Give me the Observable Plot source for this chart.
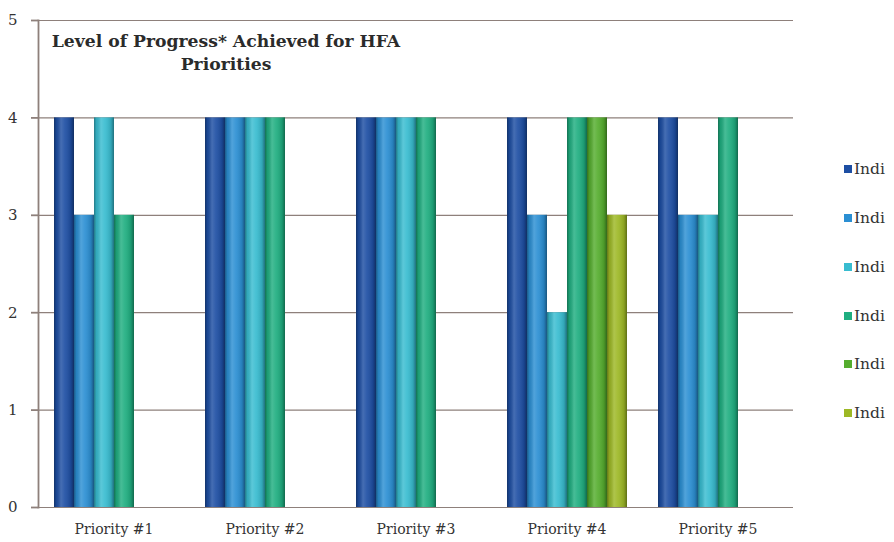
<!DOCTYPE html>
<html><head><meta charset="utf-8">
<script src="https://cdn.jsdelivr.net/npm/d3@7"></script>
<script src="https://cdn.jsdelivr.net/npm/@observablehq/plot@0.6"></script>
<style>
html,body{margin:0;padding:0;background:#fff;overflow:hidden;width:894px;height:542px}
#wrap{position:relative;width:894px;height:542px}
#title{position:absolute;left:40px;top:30px;width:372px;text-align:center;font:bold 17.2px "DejaVu Serif",serif;color:#2b2b2b;line-height:23px;white-space:nowrap}
#legend{position:absolute;left:844px;top:0;font:15.5px "DejaVu Serif",serif;color:#333;white-space:nowrap}
.li{position:absolute;left:0;display:flex;align-items:center;gap:2px}
.sw{width:8px;height:8px;display:inline-block}
</style></head>
<body><div id="wrap"><div id="chart"></div><div id="title">Level of Progress* Achieved for HFA<br>Priorities</div><div id="legend"></div></div>
<script>
const priorities = ["Priority #1","Priority #2","Priority #3","Priority #4","Priority #5"];
const indicators = ["Indicator 1","Indicator 2","Indicator 3","Indicator 4","Indicator 5","Indicator 6"];
const legendLabels = ["Indi","Indi","Indi","Indi","Indi","Indi"];
const colors = ["#1d4ea3","#2b8fd3","#38bcd0","#1fae80","#55ad2e","#9db825"];
const priority1 = [4,3,4,3,null,null];
const priority2 = [4,4,4,4,null,null];
const priority3 = [4,4,4,4,null,null];
const priority4 = [4,3,2,4,4,3];
const priority5 = [4,3,3,4,null,null];
const yTicks = [0,1,2,3,4,5];

const values = [priority1,priority2,priority3,priority4,priority5];
const rows = [];
priorities.forEach((p,i)=>values[i].forEach((v,j)=>{ if(v!=null) rows.push({priority:p, indicator:indicators[j], value:v}); }));

const grid = "#8e807b";
const chart = Plot.plot({
  width: 894, height: 542,
  marginLeft: 38, marginRight: 101, marginTop: 20, marginBottom: 35,
  style: {fontFamily: "DejaVu Serif, serif", fontSize: "13px", color: "#333", background: "#fff"},
  fx: {domain: priorities, padding: 0, label: null},
  x: {domain: indicators, paddingInner: 0, paddingOuter: 0.72, axis: null},
  y: {domain: [0,5], ticks: yTicks, label: null},
  color: {domain: indicators, range: colors},
  marks: [
    Plot.gridY(yTicks, {stroke: grid, strokeOpacity: 1, strokeWidth: 1.2}),
    Plot.barY(rows, {fx: "priority", x: "indicator", y: "value", fill: "indicator", inset: 0}),
    Plot.barY(rows, {fx: "priority", x: "indicator", y: "value", fill: "url(#shine)", inset: 0}),
    Plot.frame({anchor: "left", facetAnchor: "left", stroke: grid, strokeWidth: 1.8}),
    Plot.axisY(yTicks, {tickSize: 7, tickPadding: 14, stroke: grid, strokeWidth: 1.8, fontSize: 15, tickFormat: d3.format("d")}),
    Plot.axisFx({anchor: "bottom", tickSize: 0, tickPadding: 17, fontSize: 14, label: null})
  ]
});
document.getElementById("chart").appendChild(chart);
const svg = d3.select(chart);
const defs = svg.insert("defs", ":first-child");
const g = defs.append("linearGradient").attr("id","shine").attr("x1","0").attr("x2","1").attr("y1","0").attr("y2","0");
[[0,"#000",0.35],[0.12,"#000",0.1],[0.35,"#fff",0.18],[0.55,"#fff",0.08],[0.85,"#000",0.12],[1,"#000",0.4]].forEach(([o,c,a])=>g.append("stop").attr("offset",o).attr("stop-color",c).attr("stop-opacity",a));

const legendY = [171,220,269,318,366,415];
const lg = document.getElementById("legend");
legendLabels.forEach((name,i)=>{
  const d = document.createElement("div"); d.className="li"; d.style.top=(legendY[i]-11)+"px";
  d.innerHTML = `<span class="sw" style="background:${colors[i]}"></span><span>${name}</span>`;
  lg.appendChild(d);
});
</script></body></html>
